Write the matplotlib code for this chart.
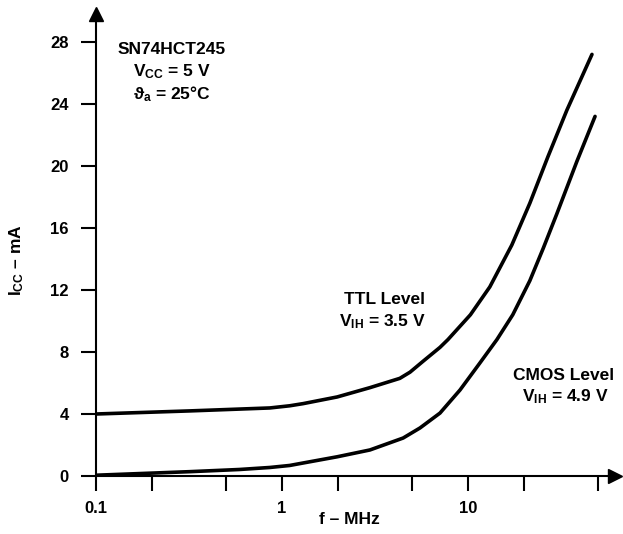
import numpy as np
import matplotlib.pyplot as plt

plt.rcParams['font.family'] = ['Liberation Sans', 'DejaVu Sans']
plt.rcParams['font.weight'] = 'bold'
plt.rcParams['mathtext.fontset'] = 'custom'
plt.rcParams['mathtext.rm'] = 'Liberation Sans:bold'
plt.rcParams['mathtext.bf'] = 'Liberation Sans:bold'
plt.rcParams['mathtext.it'] = 'Liberation Sans:bold'

# data (f in MHz, Icc in mA)
ttl_f = [0.1, 0.32, 0.86, 1.1, 1.3, 1.98, 2.97, 4.3, 4.88, 5.73, 7.07, 7.8,
         10.3, 13.1, 17.2, 21.5, 26.9, 34.0, 46.4]
ttl_i = [4.0, 4.2, 4.39, 4.53, 4.67, 5.1, 5.7, 6.3, 6.7, 7.4, 8.3, 8.8,
         10.4, 12.2, 14.9, 17.6, 20.6, 23.6, 27.2]
cmos_f = [0.1, 0.32, 0.59, 0.86, 1.1, 1.3, 1.98, 2.97, 4.48, 5.52, 7.07, 9.06,
          11.6, 14.3, 17.4, 21.5, 25.4, 30.0, 38.5, 48.2]
cmos_i = [0.05, 0.28, 0.42, 0.55, 0.68, 0.84, 1.24, 1.68, 2.45, 3.1, 4.06, 5.55,
          7.3, 8.8, 10.4, 12.6, 14.7, 16.9, 20.3, 23.2]

yticks = [0, 4, 8, 12, 16, 20, 24, 28]
xticks_major = [0.1, 1, 10]
xtick_labels = ['0.1', '1', '10']
xticks_minor = [0.2, 0.5, 2, 5, 20, 50]

fig = plt.figure(figsize=(6.23, 5.34), dpi=100)
ax = fig.add_axes([96/623, 58/534, 519/623, 462/534])

ax.plot(ttl_f, ttl_i, color='black', lw=2.6, solid_capstyle='round', solid_joinstyle='round')
ax.plot(cmos_f, cmos_i, color='black', lw=2.6, solid_capstyle='round', solid_joinstyle='round')

ax.set_xscale('log')
ax.set_xlim(0.1, 0.1 * 10 ** (519 / 186))
ax.set_ylim(0, 462 / 15.5)

ax.spines['top'].set_visible(False)
ax.spines['right'].set_visible(False)
ax.spines['left'].set_linewidth(1.5)
ax.spines['bottom'].set_linewidth(1.5)

ax.set_xticks(xticks_major)
ax.set_xticklabels(xtick_labels)
ax.set_xticks(xticks_minor, minor=True)
ax.set_xticklabels([], minor=True)
ax.set_yticks(yticks)
ax.tick_params(axis='both', which='both', direction='out', length=10.8, width=1.5, labelsize=12)
ax.tick_params(axis='x', which='both', pad=7)
ax.tick_params(axis='y', pad=9)

# arrow heads on the axes
ax.plot(1, 0, '>k', ms=10, transform=ax.get_yaxis_transform(), clip_on=False)
ax.plot(0.1, 1, '^k', ms=10, transform=ax.get_xaxis_transform(), clip_on=False)

fs = 12.5
fig.text(172/623, 1 - 49/534, 'SN74HCT245', ha='center', va='center', fontsize=fs)
fig.text(172/623, 1 - 72/534, r'V$_{\mathrm{CC}}$ = 5 V', ha='center', va='center', fontsize=fs)
fig.text(172/623, 1 - 94/534, r'ϑ$_{\mathrm{a}}$ = 25°C', ha='center', va='center', fontsize=fs)

fig.text(385/623, 1 - 300/534, 'TTL Level', ha='center', va='center', fontsize=fs)
fig.text(382/623, 1 - 322/534, r'V$_{\mathrm{IH}}$ = 3.5 V', ha='center', va='center', fontsize=fs)
fig.text(564/623, 1 - 375/534, 'CMOS Level', ha='center', va='center', fontsize=fs)
fig.text(565/623, 1 - 397/534, r'V$_{\mathrm{IH}}$ = 4.9 V', ha='center', va='center', fontsize=fs)

fig.text(349/623, 1 - 520/534, 'f – MHz', ha='center', va='center', fontsize=fs)
fig.text(17/623, 1 - 260/534, r'I$_{\mathrm{CC}}$ – mA', ha='center', va='center', rotation=90, fontsize=fs)

plt.savefig('out.png', dpi=100)
